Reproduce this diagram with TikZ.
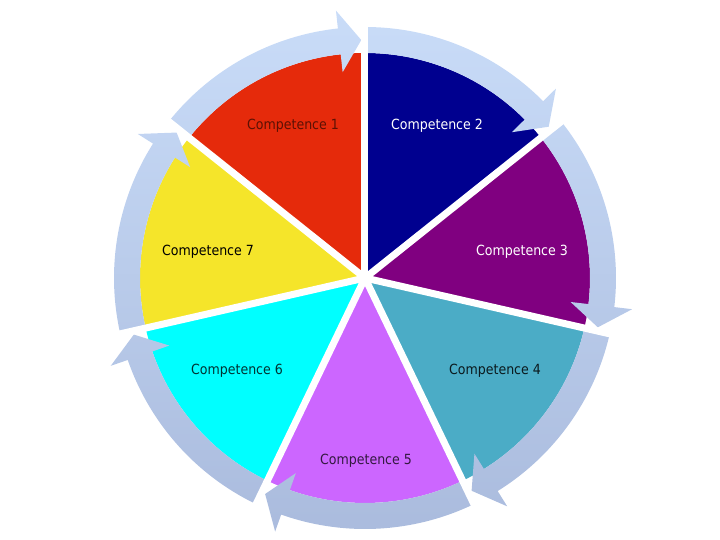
\documentclass[tikz,border=0pt]{standalone}
\usepackage{fontspec}
\setmainfont{DejaVu Sans Condensed}
\usetikzlibrary{positioning}
\definecolor{wredd}{HTML}{E52A0B}
\definecolor{wnavy}{HTML}{00008F}
\definecolor{wplum}{HTML}{800080}
\definecolor{wteal}{HTML}{4BACC6}
\definecolor{wlila}{HTML}{CC66FF}
\definecolor{wcyan}{HTML}{00FFFF}
\definecolor{wsun}{HTML}{F5E52A}
\definecolor{ringtop}{HTML}{C9DCF8}
\definecolor{ringbot}{HTML}{AABBDD}
\tikzset{lbl/.style={font=\fontsize{14}{16}\selectfont,inner sep=1pt}, ring/.style={top color=ringtop,bottom color=ringbot,draw=none}, gap/.style={draw=white,line width=7pt}}
\begin{document}
\begin{tikzpicture}[x=1pt,y=1pt]
\useasboundingbox (-365,-262) rectangle (355,278);
% wedges, clockwise from the top
\foreach \c [count=\i, evaluate=\i as \e using 90-51.4286*(\i-1)] in {wredd,wnavy,wplum,wteal,wlila,wcyan,wsun}
  \fill[\c] (0,0) -- (\e:225) arc[start angle=\e,end angle=\e+51.4286,radius=225] -- cycle;
% ring of arrows
\shade[ring] \foreach \i [evaluate=\i as \e using 90.9-51.4286*(\i-1), evaluate=\i as \s using 141.4286-51.4286*(\i-1), evaluate=\i as \h using 96.2-51.4286*(\i-1)] in {1,...,7}
  {(\s:251) arc[start angle=\s,end angle=\h,radius=251] -- (\h:269) -- (\e:238) -- (\h:207) -- (\h:225) arc[start angle=\h,end angle=\s,radius=225] -- cycle};
\foreach \i in {0,...,6} \draw[gap] (0,0) -- ({90-51.4286*\i}:274);
% labels
\node[lbl,text=wredd!40!black] (comp1) at (-72,152) {Competence 1};
\node[lbl,text=white] (comp2) at (72,152) {Competence 2};
\node[lbl,text=white] (comp3) at (157,26) {Competence 3};
\node[lbl,text=wteal!15!black] (comp4) at (130,-93) {Competence 4};
\node[lbl,text=wlila!25!black] (comp5) at (1,-183) {Competence 5};
\node[lbl,text=wcyan!20!black] (comp6) at (-128,-93) {Competence 6};
\node[lbl,text=black] (comp7) at (-157,26) {Competence 7};
\end{tikzpicture}
\end{document}
